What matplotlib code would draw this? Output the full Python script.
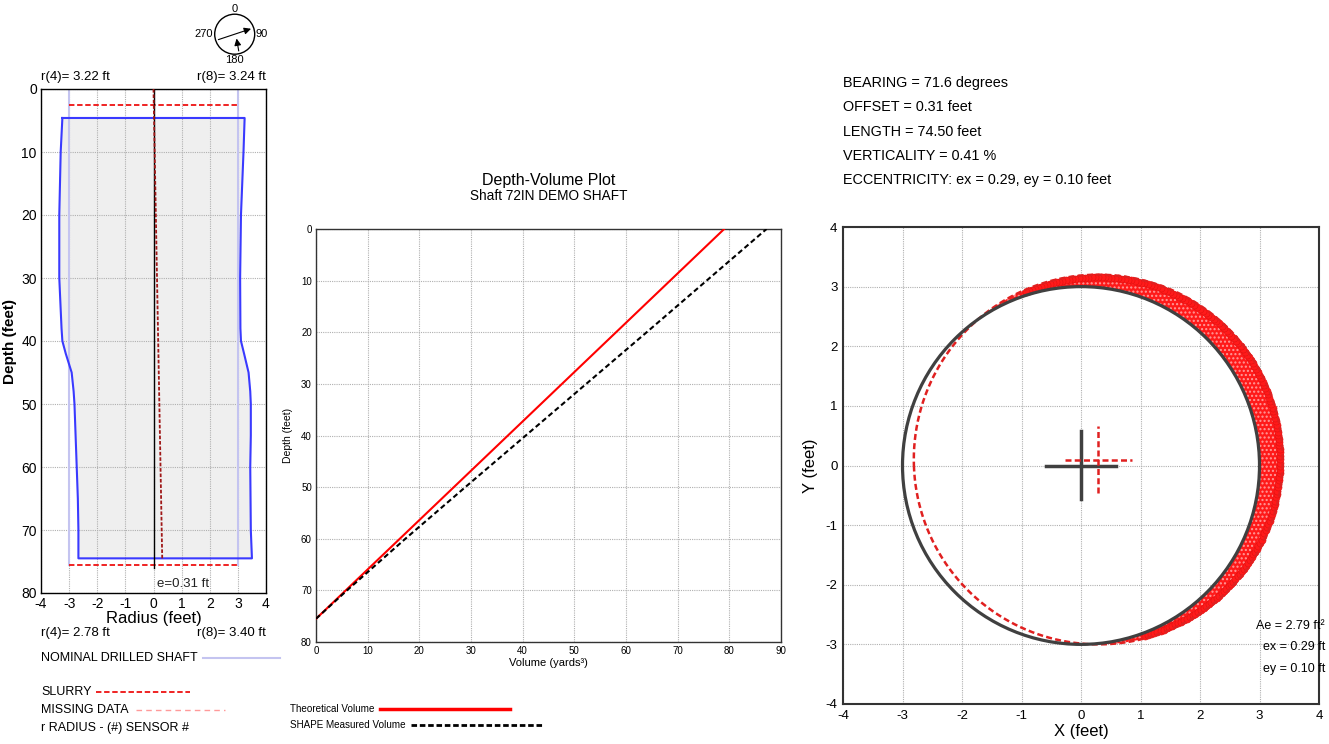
import numpy as np
import matplotlib
matplotlib.use("Agg")
import matplotlib.pyplot as plt
from matplotlib.patches import Circle

plt.rcParams['font.family'] = ['Liberation Sans', 'DejaVu Sans']
plt.rcParams['axes.unicode_minus'] = False

# ---------------- data ----------------
# caliper profile (left panel)
prof_depth = [4.6, 10, 20, 30, 38, 40, 42, 45, 48, 50, 55, 60, 65, 70, 74.5]
prof_left = [-3.24, -3.30, -3.35, -3.35, -3.27, -3.24, -3.12, -2.91, -2.84, -2.81, -2.77, -2.73, -2.69, -2.67, -2.67]
prof_right = [3.24, 3.20, 3.11, 3.08, 3.09, 3.11, 3.22, 3.38, 3.44, 3.46, 3.46, 3.44, 3.45, 3.46, 3.50]
nominal_radius = 3.0
nominal_bottom = 75.5
slurry_depths = [2.5, 75.5]
ecc_top, ecc_bottom = 0.0, 0.31
ecc_depth = [0.0, 74.5]

# depth-volume (middle panel)
theo_depth = [75.5, 0.0]
theo_vol = [0.0, 79.0]
meas_depth = [75.5, 70, 60, 50, 40, 30, 20, 10, 0]
meas_vol = [0.0, 6.0, 17.3, 28.9, 40.6, 52.3, 64.0, 75.6, 87.2]

# cross-section (right panel)
ex, ey = 0.29, 0.10
meas_radius = 3.10
cross_half = 0.58
bearing = 71.6

# ---------------- figure ----------------
W, H = 1329, 744
fig = plt.figure(figsize=(W / 100, H / 100), dpi=100)

def fr(l, t, r, b):
    return [l / W, 1 - b / H, (r - l) / W, (b - t) / H]

grid_kw = dict(color='#b0b0b0', linestyle=(0, (1, 1)), linewidth=0.8)

# ---------- left panel ----------
axL = fig.add_axes(fr(41, 89, 266, 593))
axL.fill_betweenx(prof_depth, prof_left, prof_right, color='#efefef', zorder=0.5, lw=0)
axL.plot([-nominal_radius, -nominal_radius, nominal_radius, nominal_radius],
         [nominal_bottom, 0, 0, nominal_bottom], color='#c4c4f0', lw=1.5, zorder=2)
for d in slurry_depths:
    axL.plot([-nominal_radius, nominal_radius], [d, d], color='#ee1111', lw=1.3,
             linestyle=(0, (3, 1.5)), zorder=3)
px = list(prof_left) + list(prof_right[::-1]) + [prof_left[0]]
py = list(prof_depth) + list(prof_depth[::-1]) + [prof_depth[0]]
axL.plot(px, py, color='#3a3aff', lw=1.5, zorder=4)
axL.plot([0, 0], [0, 76.0], color='black', lw=1.0, zorder=5)
axL.plot([ecc_top, ecc_bottom], ecc_depth, color='#a01818', lw=1.3,
         linestyle=(0, (2, 1)), zorder=6)
axL.set_xlim(-4, 4)
axL.set_ylim(80, 0)
axL.set_xticks(range(-4, 5))
axL.set_yticks(range(0, 81, 10))
axL.grid(True, **grid_kw)
axL.tick_params(labelsize=10, length=0, pad=3)
for s in axL.spines.values():
    s.set_linewidth(1.0)
axL.set_xlabel('Radius (feet)', fontsize=12, labelpad=0)
axL.set_ylabel('Depth (feet)', fontsize=11, fontweight='bold')
axL.yaxis.set_label_coords(-0.105, 0.5)
axL.text(1.05, 78.6, 'e=0.31 ft', fontsize=9.5, ha='center', va='center', color='#222222')
axL.text(0.0, 1.012, 'r(4)= 3.22 ft', transform=axL.transAxes, fontsize=9.5, ha='left', va='bottom')
axL.text(1.0, 1.012, 'r(8)= 3.24 ft', transform=axL.transAxes, fontsize=9.5, ha='right', va='bottom')
axL.text(0.0, -0.068, 'r(4)= 2.78 ft', transform=axL.transAxes, fontsize=9.5, ha='left', va='top')
axL.text(1.0, -0.068, 'r(8)= 3.40 ft', transform=axL.transAxes, fontsize=9.5, ha='right', va='top')

# ---------- compass ----------
axC = fig.add_axes(fr(194.7, -5.8, 274.7, 74.2))
axC.set_xlim(-2, 2)
axC.set_ylim(-2, 2)
axC.set_aspect('equal')
axC.axis('off')
axC.add_patch(Circle((0, 0), 1.0, fill=False, lw=1.0, color='black'))
b = np.deg2rad(bearing)
axC.annotate('', xy=(np.sin(b), np.cos(b)), xytext=(-np.sin(b), -np.cos(b)),
             arrowprops=dict(arrowstyle='-|>', color='black', lw=0.8, mutation_scale=10))
b2 = np.deg2rad(167)
axC.annotate('', xy=(0.07, -0.08), xytext=(np.sin(b2), np.cos(b2)),
             arrowprops=dict(arrowstyle='-|>', color='black', lw=0.8, mutation_scale=10))
axC.text(0, 1.03, '0', fontsize=8, ha='center', va='bottom')
axC.text(1.06, 0, '90', fontsize=8, ha='left', va='center')
axC.text(0, -1.03, '180', fontsize=8, ha='center', va='top')
axC.text(-1.08, 0, '270', fontsize=8, ha='right', va='center')

# ---------- middle panel ----------
axM = fig.add_axes(fr(316, 229, 781, 642))
axM.plot(theo_vol, theo_depth, color='#ff0000', lw=1.5, zorder=3)
axM.plot(meas_vol, meas_depth, color='black', lw=1.5, linestyle=(0, (2.5, 1.5)), zorder=4)
axM.set_xlim(0, 90)
axM.set_ylim(80, 0)
axM.set_xticks(range(0, 91, 10))
axM.set_yticks(range(0, 81, 10))
axM.grid(True, **grid_kw)
axM.tick_params(labelsize=7, length=0, pad=3)
for s in axM.spines.values():
    s.set_linewidth(1.0)
    s.set_color('#333333')
axM.set_xlabel('Volume (yards³)', fontsize=8, labelpad=1)
axM.set_ylabel('Depth (feet)', fontsize=7.5, labelpad=6)
fig.text(549 / W, 1 - 180 / H, 'Depth-Volume Plot', fontsize=11.5, ha='center', va='center')
fig.text(549 / W, 1 - 196 / H, 'Shaft 72IN DEMO SHAFT', fontsize=9.8, ha='center', va='center')

# ---------- right panel ----------
axR = fig.add_axes(fr(843, 227, 1319, 704))
theta = np.linspace(-np.pi, np.pi, 1441)
ux, uy = np.cos(theta), np.sin(theta)
uc = ux * ex + uy * ey
rho = uc + np.sqrt(meas_radius ** 2 - (ex ** 2 + ey ** 2) + uc ** 2)
idx = np.where(rho > nominal_radius)[0]
th_b = theta[idx]
rb = rho[idx]
bx = np.concatenate([rb * np.cos(th_b), nominal_radius * np.cos(th_b[::-1])])
by = np.concatenate([rb * np.sin(th_b), nominal_radius * np.sin(th_b[::-1])])
axR.fill(bx, by, facecolor='#ff1a1a', edgecolor='#ff9a9a', hatch='....', lw=0, zorder=2)
sel = idx[::4]
sel = sel[(rho[sel] - nominal_radius) > 0.09]
rs = rho[sel] - 0.045
axR.scatter(rs * ux[sel], rs * uy[sel], s=26, color='#ff1a1a', edgecolors='#e01010',
            linewidths=0.4, zorder=2.5)
axR.plot(rho * ux, rho * uy, color='#e02020', lw=1.8, linestyle=(0, (2.4, 1.3)), zorder=3)
axR.add_patch(Circle((0, 0), nominal_radius, fill=False, lw=2.3, color='#404040', zorder=4))
axR.plot([-cross_half, cross_half], [0, 0], color='#404040', lw=2.5, zorder=5)
axR.plot([0, 0], [-cross_half + 0.02, cross_half], color='#404040', lw=2.5, zorder=5)
axR.plot([ex - 0.56, ex + 0.56], [ey, ey], color='#e02020', lw=1.8,
         linestyle=(0, (2.4, 1.3)), zorder=6)
axR.plot([ex, ex], [ey - 0.56, ey + 0.56], color='#e02020', lw=1.8,
         linestyle=(0, (2.4, 1.3)), zorder=6)
axR.set_xlim(-4, 4)
axR.set_ylim(-4, 4)
axR.set_xticks(range(-4, 5))
axR.set_yticks(range(-4, 5))
axR.grid(True, **grid_kw)
axR.tick_params(labelsize=9.5, length=0, pad=4)
for s in axR.spines.values():
    s.set_linewidth(1.5)
    s.set_color('#333333')
axR.set_xlabel('X (feet)', fontsize=12, labelpad=2)
axR.set_ylabel('Y (feet)', fontsize=12)
axR.yaxis.set_label_coords(-0.053, 0.5)
for yv, t in zip([-2.69, -3.05, -3.42], ['Ae = 2.79 ft²', 'ex = 0.29 ft', 'ey = 0.10 ft']):
    axR.text(4.1, yv, t, fontsize=9, ha='right', va='center', clip_on=False, zorder=7)

info = ['BEARING = 71.6 degrees', 'OFFSET = 0.31 feet', 'LENGTH = 74.50 feet',
        'VERTICALITY = 0.41 %', 'ECCENTRICITY: ex = 0.29, ey = 0.10 feet']
for i, t in enumerate(info):
    fig.text(843 / W, 1 - (83 + 24.3 * i) / H, t, fontsize=10.4, ha='left', va='center')

# ---------- legends (overlay in pixel space) ----------
ov = fig.add_axes([0, 0, 1, 1])
ov.set_xlim(0, W)
ov.set_ylim(H, 0)
ov.axis('off')
ov.patch.set_alpha(0)
leg_fs = 9
ov.text(41, 658, 'NOMINAL DRILLED SHAFT', fontsize=leg_fs, va='center')
ov.plot([203, 280], [658, 658], color='#c4c4f0', lw=1.5)
ov.text(41, 692, 'SLURRY', fontsize=leg_fs, va='center')
ov.plot([96, 190], [692, 692], color='#ee1111', lw=1.3, linestyle=(0, (3, 1.5)))
ov.text(41, 710, 'MISSING DATA', fontsize=leg_fs, va='center')
ov.plot([136, 225], [710, 710], color='#ff9a9a', lw=1.0, linestyle=(0, (4, 3)))
ov.text(41, 728, 'r RADIUS - (#) SENSOR #', fontsize=leg_fs, va='center')

ov.text(290, 709, 'Theoretical Volume', fontsize=7.1, va='center')
ov.plot([380, 510], [709, 709], color='#ff0000', lw=2.5)
ov.text(290, 725, 'SHAPE Measured Volume', fontsize=7.1, va='center')
ov.plot([411, 542], [725, 725], color='black', lw=2.0, linestyle=(0, (2, 1)))

fig.savefig('out.png', dpi=100)
